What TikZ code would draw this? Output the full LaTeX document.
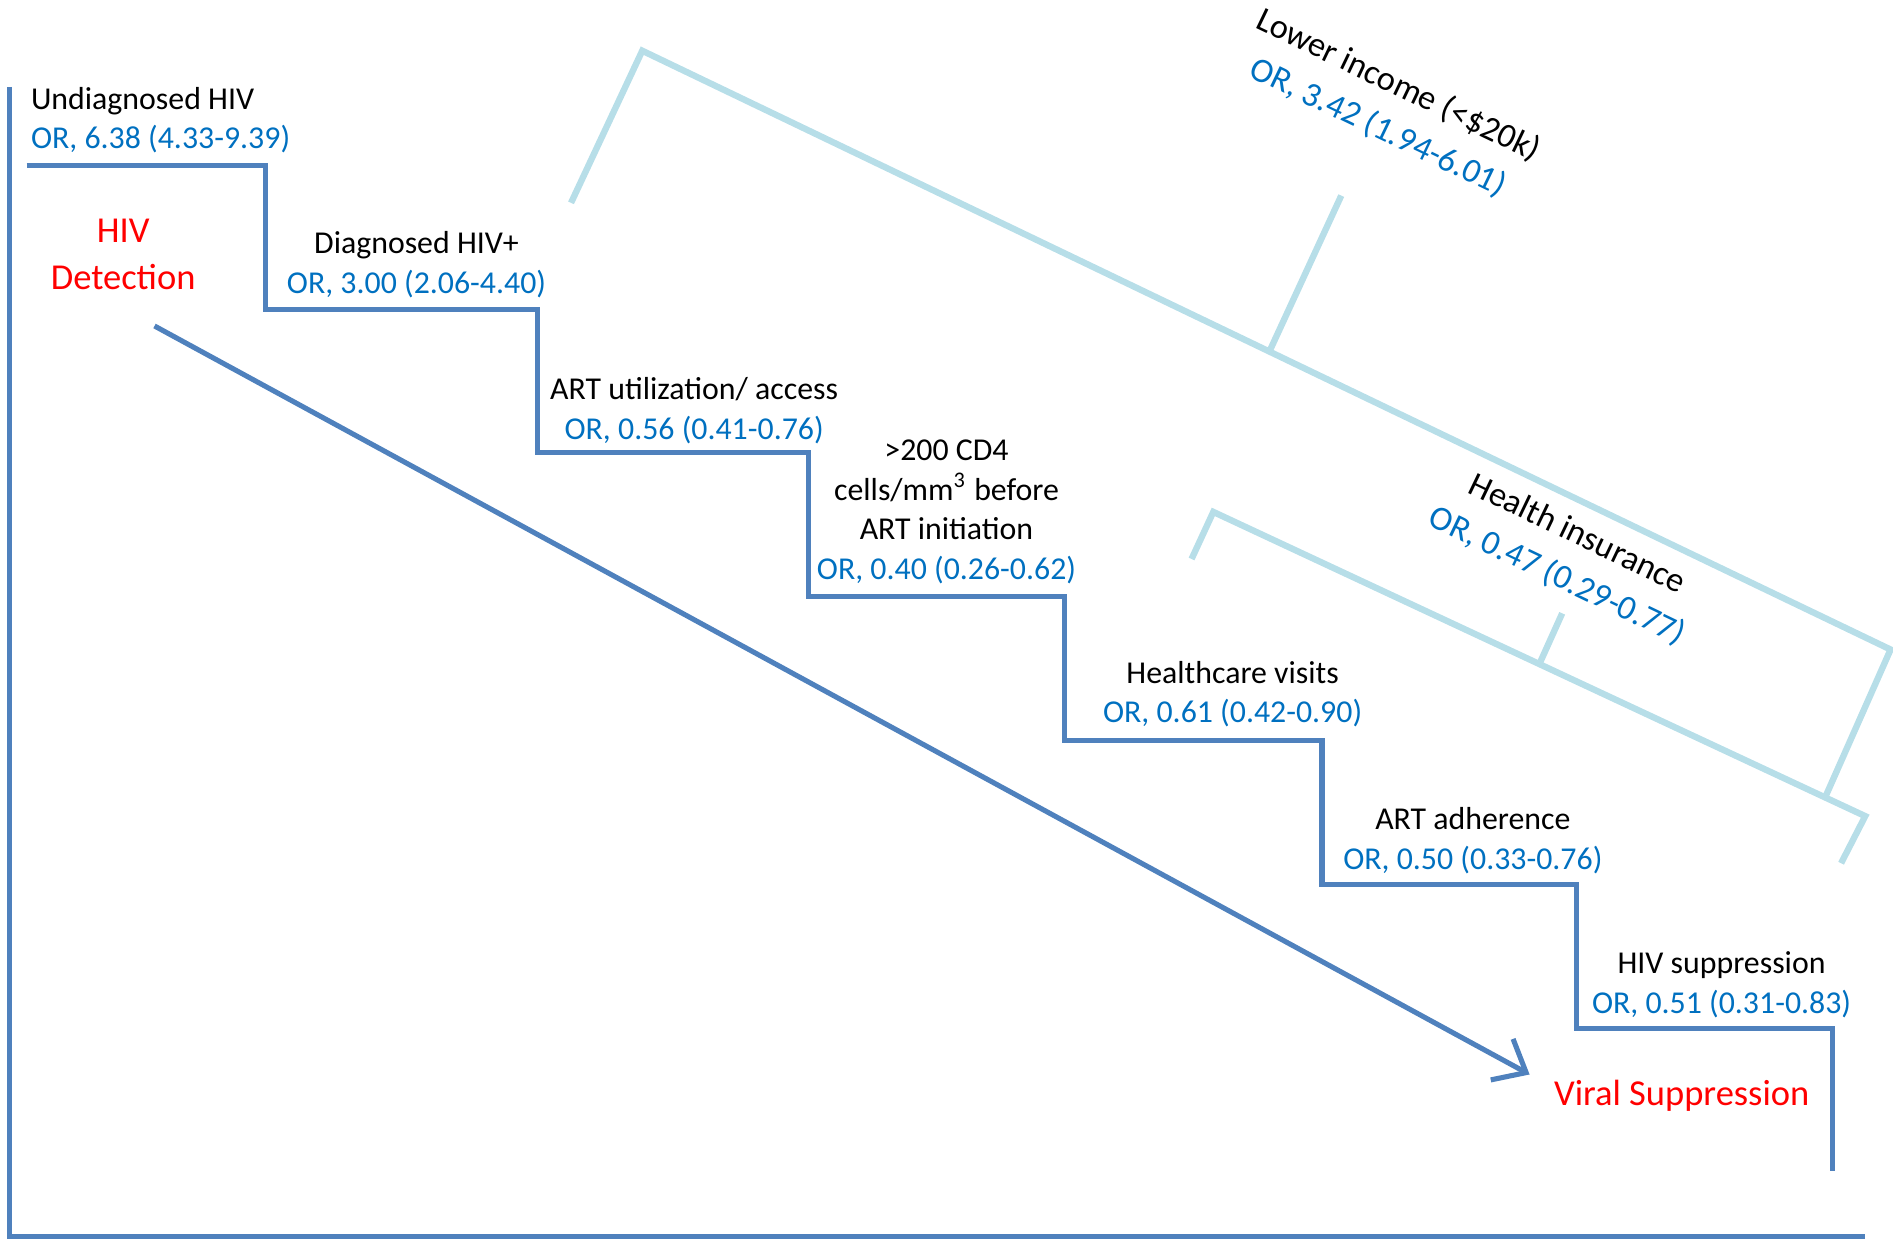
\documentclass[tikz,border=0pt]{standalone}
\usepackage{fontspec}
\setmainfont{Carlito}
\usetikzlibrary{arrows.meta}
\definecolor{stair}{RGB}{79,129,189}
\definecolor{brk}{RGB}{183,222,232}
\definecolor{orblue}{RGB}{0,112,192}
\definecolor{redt}{RGB}{255,0,0}
\begin{document}
\begin{tikzpicture}[x=0.01cm,y=-0.01cm,
  lbl/.style={font=\fontsize{7.5pt}{9.4pt}\selectfont, align=center, inner sep=0pt, text=black},
  rotlbl/.style={font=\fontsize{8.1pt}{11pt}\selectfont, align=center, inner sep=0pt, text=black, rotate=-25.6},
  redlbl/.style={font=\fontsize{8.6pt}{11.1pt}\selectfont, align=center, inner sep=0pt, text=redt},
  stairline/.style={draw=stair, line width=1.2pt, line join=miter},
  axisline/.style={draw=stair, line width=1.2pt},
  bracketline/.style={draw=brk, line width=1.5pt, line join=miter},
  flowarrow/.style={draw=stair, line width=1.2pt, -{Straight Barb[length=6.5pt,width=11pt,line width=1.2pt]}}]
\useasboundingbox (0,0) rectangle (1568,1026);

% axes
\coordinate (axtop) at (8,72);
\coordinate (axorigin) at (8,1024);
\coordinate (axright) at (1545,1024);
\draw[axisline] (axtop) -- (axorigin) -- (axright);

% light-blue brackets
\draw[bracketline] (473,168) -- (532,42) -- (1566,538) -- (1512,660);
\draw[bracketline] (1052,290) -- (1111,162);
\draw[bracketline] (987,463) -- (1005,424) -- (1545,676) -- (1525,715);
\draw[bracketline] (1276,548) -- (1294,508);

% staircase
\draw[stairline] (22,137) -- (220,137) -- (220,256) -- (445,256) -- (445,375)
  -- (670,375) -- (670,494) -- (882,494) -- (882,613) -- (1095,613) -- (1095,733)
  -- (1306,733) -- (1306,852) -- (1518,852) -- (1518,970);

% diagonal arrow
\coordinate (arrS) at (128,270);
\coordinate (arrE) at (1267,890);
\draw[flowarrow] (arrS) -- (arrE);

% labels
\node[lbl, align=left, anchor=west] (undiag) at (25,99.5) {Undiagnosed HIV\\\textcolor{orblue}{OR, 6.38 (4.33-9.39)}};
\node[redlbl] (detect) at (102,211) {HIV\\Detection};
\node[lbl] (diag) at (345,219.5) {Diagnosed HIV+\\\textcolor{orblue}{OR, 3.00 (2.06-4.40)}};
\node[lbl] (artuse) at (575,340) {ART utilization/ access\\\textcolor{orblue}{OR, 0.56 (0.41-0.76)}};
\node[lbl] (cd4) at (784,424) {>200 CD4\\cells/mm\textsuperscript{3} before\\ART initiation\\\textcolor{orblue}{OR, 0.40 (0.26-0.62)}};
\node[lbl] (visits) at (1021,575) {Healthcare visits\\\textcolor{orblue}{OR, 0.61 (0.42-0.90)}};
\node[lbl] (adher) at (1220,696) {ART adherence\\\textcolor{orblue}{OR, 0.50 (0.33-0.76)}};
\node[lbl] (hivsup) at (1426,815.5) {HIV suppression\\\textcolor{orblue}{OR, 0.51 (0.31-0.83)}};
\node[redlbl] (viral) at (1393,908) {Viral Suppression};
\node[rotlbl] (income) at (1150,88) {Lower income (<\$20k)\\\textcolor{orblue}{OR, 3.42 (1.94-6.01)}};
\node[rotlbl] (insur) at (1298,460) {Health insurance\\\textcolor{orblue}{OR, 0.47 (0.29-0.77)}};
\end{tikzpicture}
\end{document}
